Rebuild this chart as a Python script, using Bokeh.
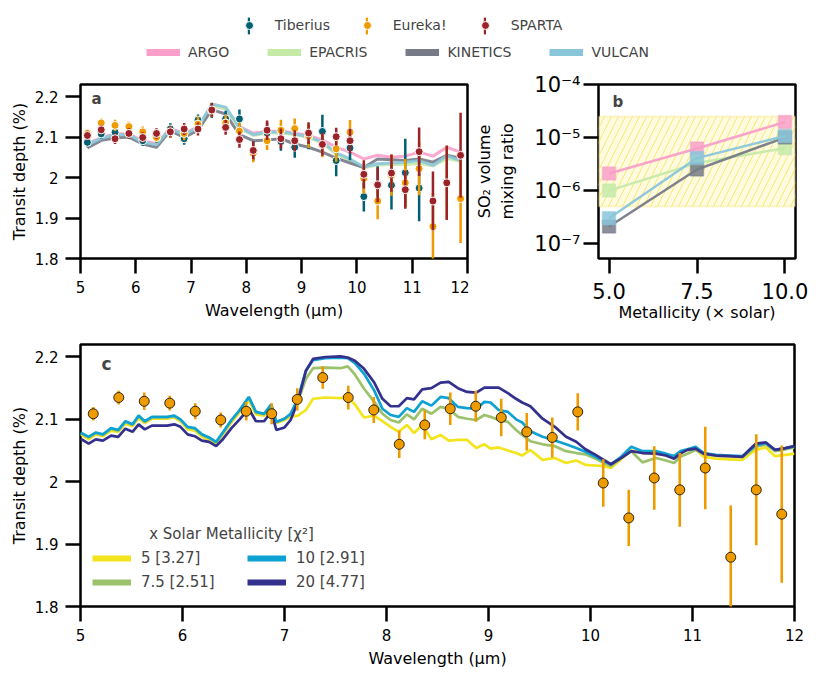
from bokeh.plotting import figure
from bokeh.models import (Range1d, Legend, LegendItem, Label, BoxAnnotation,
                          FixedTicker, NumeralTickFormatter)
from bokeh.layouts import column, row
from bokeh.embed import file_html
from bokeh.resources import INLINE

FONT = "DejaVu Sans"
NAN = float("nan")

# ---------------- data ----------------
wl_bins = [5.125, 5.375, 5.625, 5.875, 6.125, 6.375, 6.625, 6.875, 7.125, 7.375,
           7.625, 7.875, 8.125, 8.375, 8.625, 8.875, 9.125, 9.375, 9.625, 9.875,
           10.125, 10.375, 10.625, 10.875, 11.125, 11.375, 11.625, 11.875]

eureka_depth = [2.109, 2.135, 2.129, 2.126, 2.113, 2.099, 2.113, 2.109, 2.132, 2.167,
                2.135, 2.115, 2.060, 2.091, 2.117, 2.121, 2.103, 2.080, 2.071, 2.112,
                1.998, 1.942, 2.006, 1.987, 2.022, 1.879, 1.987, 1.948]
eureka_err = [0.011, 0.011, 0.014, 0.012, 0.013, 0.012, 0.015, 0.017, 0.018, 0.018,
              0.019, 0.021, 0.022, 0.023, 0.026, 0.025, 0.030, 0.030, 0.032, 0.030,
              0.038, 0.045, 0.051, 0.059, 0.066, 0.083, 0.089, 0.110]

tiberius_wl = [5.125, 5.375, 5.625, 5.875, 6.125, 6.375, 6.625, 6.875, 7.125, 7.375,
               7.625, 7.875, 8.125, 8.375, 8.625, 8.875, 9.125, 9.375, 9.625, 9.875,
               10.125, 10.375, 10.625, 10.875, 11.125]
tiberius_depth = [2.087, 2.108, 2.112, 2.110, 2.091, 2.100, 2.120, 2.096, 2.142, 2.165,
                  2.145, 2.145, 2.065, 2.110, 2.089, 2.075, 2.100, 2.114, 2.042, 2.073,
                  1.953, 1.983, 1.981, 2.012, 1.974]
tiberius_err = [0.012, 0.012, 0.013, 0.013, 0.013, 0.014, 0.014, 0.015, 0.014, 0.018,
                0.020, 0.023, 0.024, 0.025, 0.023, 0.026, 0.030, 0.041, 0.039, 0.030,
                0.037, 0.045, 0.060, 0.084, 0.082]

sparta_depth = [2.104, 2.118, 2.096, 2.109, 2.099, 2.109, 2.113, 2.120, 2.120, 2.167,
                2.124, 2.094, 2.067, 2.117, 2.096, 2.091, 2.110, 2.082, 2.101, 2.091,
                2.008, 1.982, 2.011, 1.970, 2.064, 1.942, 1.987, 2.055]
sparta_err = [0.012, 0.012, 0.013, 0.013, 0.013, 0.013, 0.014, 0.015, 0.016, 0.017,
              0.018, 0.020, 0.022, 0.024, 0.025, 0.026, 0.027, 0.028, 0.022, 0.030,
              0.035, 0.043, 0.046, 0.047, 0.060, 0.073, 0.092, 0.105]

argo_depth = [2.084, 2.099, 2.108, 2.108, 2.090, 2.084, 2.122, 2.108, 2.126, 2.178,
              2.170, 2.126, 2.110, 2.114, 2.115, 2.110, 2.104, 2.093, 2.075, 2.063,
              2.046, 2.055, 2.050, 2.053, 2.063, 2.053, 2.075, 2.063]
epacris_depth = [2.080, 2.096, 2.105, 2.105, 2.086, 2.080, 2.119, 2.105, 2.123, 2.178,
                 2.170, 2.122, 2.104, 2.110, 2.111, 2.106, 2.099, 2.085, 2.058, 2.043,
                 2.024, 2.031, 2.032, 2.032, 2.035, 2.029, 2.047, 2.040]
kinetics_depth = [2.073, 2.092, 2.098, 2.100, 2.083, 2.075, 2.116, 2.099, 2.117, 2.168,
                  2.157, 2.106, 2.091, 2.093, 2.096, 2.083, 2.075, 2.063, 2.048, 2.036,
                  2.025, 2.046, 2.044, 2.042, 2.046, 2.038, 2.055, 2.048]
vulcan_depth = [2.081, 2.097, 2.106, 2.106, 2.087, 2.081, 2.120, 2.106, 2.124, 2.182,
                2.174, 2.124, 2.106, 2.112, 2.113, 2.108, 2.101, 2.088, 2.061, 2.046,
                2.026, 2.034, 2.036, 2.038, 2.042, 2.030, 2.054, 2.042]

# panel b
metallicity = [5.0, 7.5, 10.0]
argo_so2 = [2.1e-6, 6.2e-6, 1.96e-5]
epacris_so2 = [1.0e-6, 3.3e-6, 6.3e-6]
kinetics_so2 = [2.1e-7, 2.5e-6, 1.0e-5]
vulcan_so2 = [3.0e-7, 4.1e-6, 1.07e-5]
so2_obs_range = [5.0e-7, 2.5e-5]

# panel c model spectra
model_wl = [5.00, 5.08, 5.15, 5.22, 5.30, 5.37, 5.44, 5.51, 5.57, 5.63,
            5.70, 5.78, 5.85, 5.92, 5.98, 6.05, 6.12, 6.19, 6.26, 6.33,
            6.40, 6.48, 6.56, 6.65, 6.72, 6.80, 6.87, 6.92, 7.00, 7.06,
            7.13, 7.21, 7.28, 7.40, 7.55, 7.62, 7.69, 7.78, 7.88, 7.96,
            8.04, 8.12, 8.20, 8.27, 8.35, 8.44, 8.53, 8.61, 8.70, 8.79,
            8.88, 8.96, 9.02, 9.10, 9.19, 9.27, 9.33, 9.41, 9.53, 9.65,
            9.76, 9.86, 9.95, 10.05, 10.13, 10.20, 10.30, 10.40, 10.51, 10.64,
            10.74, 10.82, 10.88, 10.95, 11.03, 11.11, 11.23, 11.36, 11.49, 11.55,
            11.62, 11.72, 11.81, 11.91, 12.00]
met5_depth = [2.076, 2.068, 2.076, 2.073, 2.082, 2.080, 2.093, 2.089, 2.102, 2.094,
              2.101, 2.101, 2.101, 2.103, 2.097, 2.084, 2.082, 2.072, 2.067, 2.061,
              2.077, 2.095, 2.111, 2.131, 2.108, 2.106, 2.120, 2.094, 2.099, 2.104,
              2.106, 2.115, 2.133, 2.135, 2.134, 2.136, 2.124, 2.103, 2.106, 2.097,
              2.088, 2.080, 2.091, 2.078, 2.091, 2.068, 2.075, 2.066, 2.067, 2.067,
              2.054, 2.060, 2.053, 2.055, 2.050, 2.046, 2.042, 2.051, 2.035, 2.038,
              2.030, 2.034, 2.027, 2.026, 2.025, 2.022, 2.036, 2.050, 2.046, 2.046,
              2.042, 2.038, 2.046, 2.051, 2.052, 2.040, 2.037, 2.036, 2.035, 2.043,
              2.051, 2.055, 2.041, 2.043, 2.045]
met7p5_depth = [2.078, 2.071, 2.078, 2.075, 2.085, 2.082, 2.096, 2.091, 2.105, 2.096,
                2.103, 2.103, 2.103, 2.105, 2.099, 2.087, 2.085, 2.075, 2.070, 2.063,
                2.079, 2.098, 2.114, 2.135, 2.111, 2.108, 2.123, 2.095, 2.101, 2.108,
                2.128, 2.165, 2.182, 2.183, 2.182, 2.185, 2.172, 2.149, 2.128, 2.109,
                2.099, 2.095, 2.108, 2.100, 2.117, 2.109, 2.120, 2.117, 2.104, 2.101,
                2.099, 2.107, 2.104, 2.099, 2.096, 2.083, 2.075, 2.065, 2.060, 2.057,
                2.049, 2.046, 2.044, 2.037, 2.030, 2.025, 2.038, 2.049, 2.031, 2.038,
                2.034, 2.030, 2.040, 2.045, 2.051, 2.044, 2.042, 2.041, 2.040, 2.047,
                2.056, 2.060, 2.049, 2.052, 2.055]
met10_depth = [2.079, 2.072, 2.079, 2.076, 2.086, 2.083, 2.097, 2.092, 2.106, 2.097,
               2.104, 2.104, 2.104, 2.106, 2.100, 2.088, 2.086, 2.076, 2.071, 2.064,
               2.080, 2.099, 2.115, 2.136, 2.112, 2.109, 2.124, 2.096, 2.101, 2.109,
               2.133, 2.178, 2.195, 2.198, 2.199, 2.198, 2.190, 2.173, 2.146, 2.117,
               2.107, 2.104, 2.118, 2.112, 2.129, 2.122, 2.136, 2.134, 2.120, 2.118,
               2.117, 2.128, 2.127, 2.115, 2.112, 2.100, 2.095, 2.081, 2.072, 2.066,
               2.060, 2.054, 2.048, 2.040, 2.033, 2.028, 2.040, 2.056, 2.049, 2.049,
               2.045, 2.041, 2.049, 2.052, 2.056, 2.046, 2.043, 2.042, 2.041, 2.049,
               2.058, 2.062, 2.051, 2.054, 2.057]
met20_depth = [2.069, 2.061, 2.068, 2.066, 2.074, 2.072, 2.085, 2.080, 2.092, 2.084,
               2.090, 2.090, 2.090, 2.092, 2.088, 2.076, 2.073, 2.066, 2.064, 2.057,
               2.069, 2.086, 2.100, 2.117, 2.097, 2.097, 2.112, 2.083, 2.087, 2.099,
               2.128, 2.178, 2.197, 2.200, 2.201, 2.199, 2.194, 2.181, 2.159, 2.133,
               2.121, 2.121, 2.134, 2.132, 2.148, 2.150, 2.159, 2.160, 2.150, 2.144,
               2.143, 2.151, 2.151, 2.151, 2.142, 2.133, 2.127, 2.121, 2.101, 2.088,
               2.072, 2.064, 2.052, 2.043, 2.035, 2.028, 2.038, 2.049, 2.046, 2.045,
               2.042, 2.037, 2.045, 2.051, 2.053, 2.045, 2.042, 2.041, 2.040, 2.050,
               2.061, 2.063, 2.051, 2.054, 2.057]

met_labels = ["5 [3.27]", "7.5 [2.51]", "10 [2.91]", "20 [4.77]"]
wl_ticks = [5, 6, 7, 8, 9, 10, 11, 12]
depth_ticks = [1.8, 1.9, 2.0, 2.1, 2.2]
so2_ticks = [1e-7, 1e-6, 1e-5, 1e-4]
so2_tick_labels = ["10⁻⁷", "10⁻⁶", "10⁻⁵", "10⁻⁴"]
met_ticks = [5.0, 7.5, 10.0]

# ---------------- colours ----------------
C_TIB, C_EUR, C_SPA = "#005f73", "#ee9b00", "#9b2226"
C_ARGO, C_EPA, C_KIN, C_VUL = "#f99fc9", "#c5eaa8", "#777b88", "#8ac6da"
C_M5, C_M7, C_M10, C_M20 = "#f3e41d", "#9cc16b", "#0ea2d3", "#33308e"


def style(p, tick_font="15px"):
    p.outline_line_color = "black"
    p.outline_line_width = 2.5
    p.xgrid.visible = False
    p.ygrid.visible = False
    p.background_fill_color = "white"
    for ax in p.axis:
        ax.axis_line_color = None
        ax.major_tick_out = 15
        ax.major_tick_in = 0
        ax.major_tick_line_width = 2.5
        ax.major_tick_line_color = "black"
        ax.minor_tick_line_color = None
        ax.major_label_text_font = FONT
        ax.major_label_text_font_size = tick_font
        ax.major_label_text_color = "black"
        ax.major_label_standoff = 7
        ax.axis_label_text_font = FONT
        ax.axis_label_text_font_size = "16px"
        ax.axis_label_text_font_style = "normal"
        ax.axis_label_text_color = "black"
        ax.axis_label_standoff = 3


def errbars(p, x, y, e, color, size, edge, edge_w, bar_w):
    lo = [yi - ei for yi, ei in zip(y, e)]
    hi = [yi + ei for yi, ei in zip(y, e)]
    p.segment(x0=x, y0=lo, x1=x, y1=hi, line_color=color, line_width=bar_w)
    p.scatter(x=x, y=y, size=size, fill_color=color, line_color=edge, line_width=edge_w)


# ---------------- top legend figure ----------------
pl = figure(width=806, height=70, x_range=Range1d(0, 1), y_range=Range1d(0, 1),
            x_axis_type=None, y_axis_type=None, toolbar_location=None,
            output_backend="svg", min_border=0)
pl.outline_line_color = None
pl.xgrid.visible = False
pl.ygrid.visible = False

bar_items, dot_items, line_items = [], [], []
for name, col in [("Tiberius", C_TIB), ("Eureka!", C_EUR), ("SPARTA", C_SPA)]:
    rb = pl.vbar(x=[NAN], top=[NAN], width=0.1, fill_color=col, line_color=None)
    rd = pl.scatter(x=[NAN], y=[NAN], marker="circle", fill_color=col,
                    line_color="white", line_width=1)
    bar_items.append(LegendItem(label="", renderers=[rb]))
    dot_items.append(LegendItem(label=name, renderers=[rd]))
for name, col in [("ARGO", C_ARGO), ("EPACRIS", C_EPA), ("KINETICS", C_KIN), ("VULCAN", C_VUL)]:
    rl = pl.line(x=[NAN], y=[NAN], line_color=col, line_width=7)
    line_items.append(LegendItem(label=name, renderers=[rl]))

common = dict(orientation="horizontal", padding=0, margin=0, border_line_alpha=0,
              background_fill_alpha=0, label_text_font=FONT, label_text_font_size="14px")
leg_bars = Legend(items=bar_items, location=(167.2, 34.5), glyph_width=3, glyph_height=21,
                  label_height=21, label_width=95, label_standoff=0, spacing=20, **common)
leg_dots = Legend(items=dot_items, location=(158.7, 35), glyph_width=20, glyph_height=20,
                  label_height=20, label_width=62, label_standoff=16, spacing=20, **common)
leg_lines = Legend(items=line_items, location=(66, 8), glyph_width=34, glyph_height=20,
                   label_height=20, label_standoff=8, spacing=38, **common)
pl.add_layout(leg_bars)
pl.add_layout(leg_dots)
pl.add_layout(leg_lines)

# ---------------- panel a ----------------
pa = figure(width=469, height=262, x_range=Range1d(5, 12), y_range=Range1d(1.8, 2.23),
            toolbar_location=None, output_backend="svg",
            min_border_left=80, min_border_right=2, min_border_top=14, min_border_bottom=73)
style(pa)
pa.xaxis.ticker = FixedTicker(ticks=wl_ticks)
pa.yaxis.ticker = FixedTicker(ticks=depth_ticks)
pa.xaxis.axis_label = "Wavelength (μm)"
pa.yaxis.axis_label = "Transit depth (%)"
pa.xaxis.axis_label_standoff = 5

for ys, col in [(argo_depth, C_ARGO), (epacris_depth, C_EPA), (kinetics_depth, C_KIN),
                (vulcan_depth, C_VUL)]:
    pa.line(wl_bins, ys, line_color=col, line_width=3, line_alpha=0.9)

errbars(pa, tiberius_wl, tiberius_depth, tiberius_err, C_TIB, 8, "white", 1, 2.5)
errbars(pa, wl_bins, eureka_depth, eureka_err, C_EUR, 8, "white", 1, 2.5)
errbars(pa, wl_bins, sparta_depth, sparta_err, C_SPA, 8, "white", 1, 2.5)

pa.add_layout(Label(x=pa.x_range.start, y=pa.y_range.end, x_offset=11, y_offset=-5,
                    text="a", text_font=FONT, text_font_size="15px",
                    text_font_style="bold", text_baseline="top"))

# ---------------- panel b ----------------
pb = figure(width=339, height=262, x_range=Range1d(4.7, 10.3),
            y_range=Range1d(5.25e-8, 1e-4), y_axis_type="log",
            toolbar_location=None, output_backend="svg",
            min_border_left=129, min_border_right=13, min_border_top=13, min_border_bottom=74)
style(pb, tick_font="21px")
pb.xaxis.ticker = FixedTicker(ticks=met_ticks)
pb.xaxis.formatter = NumeralTickFormatter(format="0.0")
pb.yaxis.ticker = FixedTicker(ticks=so2_ticks)
pb.yaxis.major_label_overrides = dict(zip(so2_ticks, so2_tick_labels))
pb.yaxis.major_label_standoff = 3
pb.xaxis.major_label_standoff = 9
pb.xaxis.axis_label_standoff = 1
pb.yaxis.axis_label_standoff = 14
pb.xaxis.axis_label = "Metallicity (× solar)"
pb.yaxis.axis_label = "SO₂ volume\nmixing ratio"

pb.add_layout(BoxAnnotation(bottom=so2_obs_range[0], top=so2_obs_range[1],
                            fill_color="#fffad6", fill_alpha=0.8,
                            hatch_pattern="/", hatch_color="#f7e063", hatch_alpha=0.8,
                            hatch_scale=14, hatch_weight=1,
                            line_color="#f7e063", line_width=2, level="underlay"))

for ys, col in [(argo_so2, C_ARGO), (epacris_so2, C_EPA), (kinetics_so2, C_KIN),
                (vulcan_so2, C_VUL)]:
    pb.line(metallicity, ys, line_color=col, line_width=2.5, line_alpha=0.95)
    pb.scatter(metallicity, ys, marker="square", size=13, fill_color=col, fill_alpha=0.85,
               line_color=col, line_alpha=0.5, line_width=1.5)

pb.add_layout(Label(x=pb.x_range.start, y=pb.y_range.end, x_offset=14, y_offset=-8,
                    text="b", text_font=FONT, text_font_size="15px",
                    text_font_style="bold", text_baseline="top"))

# ---------------- panel c ----------------
pc = figure(width=806, height=338, x_range=Range1d(5, 12), y_range=Range1d(1.8, 2.22),
            toolbar_location=None, output_backend="svg",
            min_border_left=80, min_border_right=12, min_border_top=12, min_border_bottom=63)
style(pc)
pc.xaxis.ticker = FixedTicker(ticks=wl_ticks)
pc.yaxis.ticker = FixedTicker(ticks=depth_ticks)
pc.xaxis.axis_label = "Wavelength (μm)"
pc.yaxis.axis_label = "Transit depth (%)"
pc.xaxis.axis_label_standoff = 5

for ys, col in [(met5_depth, C_M5), (met7p5_depth, C_M7), (met10_depth, C_M10),
                (met20_depth, C_M20)]:
    pc.line(model_wl, ys, line_color=col, line_width=2.7)

errbars(pc, wl_bins, eureka_depth, eureka_err, C_EUR, 10, "black", 0.8, 2.6)

c_items = []
for lab, col in zip(met_labels, [C_M5, C_M7, C_M10, C_M20]):
    r = pc.line(x=[NAN], y=[NAN], line_color=col, line_width=6)
    c_items.append(LegendItem(label=lab, renderers=[r]))
leg_c = Legend(items=c_items, location=(12, 14), orientation="vertical", ncols=2,
               glyph_width=39, glyph_height=20, label_height=20, label_width=102,
               label_standoff=10, spacing=4, padding=0, margin=0,
               border_line_alpha=0, background_fill_alpha=0,
               label_text_font=FONT, label_text_font_size="15px")
pc.add_layout(leg_c)
pc.add_layout(Label(x=pc.x_range.start, y=pc.y_range.start, x_offset=151, y_offset=73,
                    text="x Solar Metallicity [χ²]", text_font=FONT, text_font_size="15px",
                    text_align="center", text_baseline="middle"))
pc.add_layout(Label(x=pc.x_range.start, y=pc.y_range.end, x_offset=21, y_offset=-9,
                    text="c", text_font=FONT, text_font_size="17px",
                    text_font_style="bold", text_baseline="top"))

layout = column(pl, row(pa, pb), pc)
open("out.html", "w").write(file_html(layout, INLINE))
